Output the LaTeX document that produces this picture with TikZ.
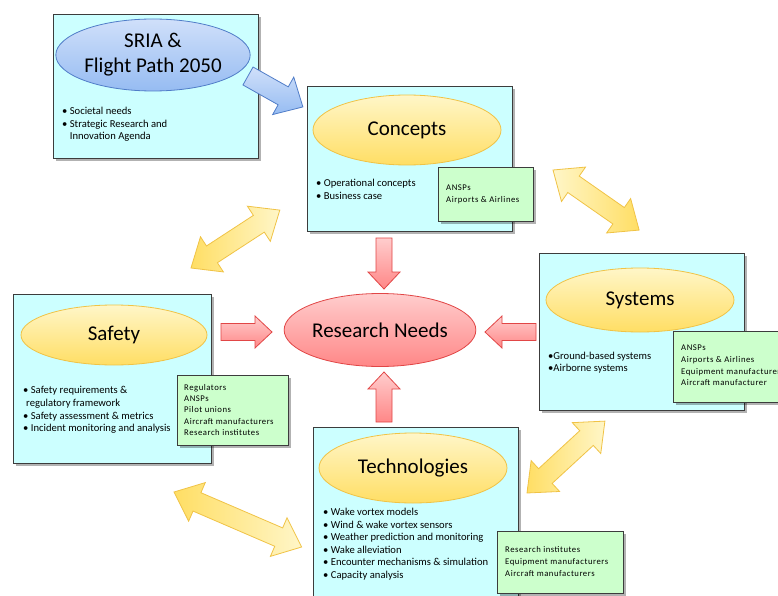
\documentclass[tikz,border=0pt]{standalone}
\usepackage{fontspec}
\setmainfont{Carlito}
\newfontfamily\grnfont[LetterSpace=6]{Carlito}
\usetikzlibrary{shapes.geometric,shadows}

\definecolor{cyanbox}{RGB}{204,255,255}
\definecolor{greenbox}{RGB}{204,255,204}
\definecolor{boxline}{RGB}{60,60,60}
\definecolor{yelTop}{RGB}{255,246,200}
\definecolor{yelBot}{RGB}{255,222,100}
\definecolor{yelLine}{RGB}{240,195,70}
\definecolor{bluTop}{RGB}{208,224,250}
\definecolor{bluBot}{RGB}{150,188,242}
\definecolor{bluLine}{RGB}{80,125,200}
\definecolor{redTop}{RGB}{255,205,205}
\definecolor{redBot}{RGB}{255,135,135}
\definecolor{redLine}{RGB}{225,70,70}

% single block arrow: style, start, angle, length, half shaft, half head, head length
\newcommand\sblock[7]{\begin{scope}[shift={#2},rotate=#3]
 \path[#1] (0,#5) -- ({#4-#7},#5) -- ({#4-#7},#6) -- (#4,0) -- ({#4-#7},-#6) -- ({#4-#7},-#5) -- (0,-#5) -- cycle;
\end{scope}}
% double block arrow: style, start, angle, length, half shaft, half head, head length
\newcommand\dblock[7]{\begin{scope}[shift={#2},rotate=#3]
 \path[#1] (0,0) -- (#7,#6) -- (#7,#5) -- ({#4-#7},#5) -- ({#4-#7},#6) -- (#4,0) -- ({#4-#7},-#6) -- ({#4-#7},-#5) -- (#7,-#5) -- (#7,-#6) -- cycle;
\end{scope}}

\tikzset{
 cbox/.style={draw=boxline, fill=cyanbox, line width=0.9pt, anchor=north west, inner sep=0,
   drop shadow={shadow xshift=2.5pt, shadow yshift=-2.5pt, opacity=0.3, fill=black}},
 gbox/.style={draw=boxline, fill=greenbox, line width=0.9pt, anchor=north west, inner sep=0,
   drop shadow={shadow xshift=2.5pt, shadow yshift=-2.5pt, opacity=0.3, fill=black}},
 ybub/.style={ellipse, draw=yelLine, line width=0.8pt, top color=yelTop, bottom color=yelBot,
   font=\fontsize{21}{25}\selectfont, inner sep=0, align=center},
 bbub/.style={ellipse, draw=bluLine, line width=0.8pt, top color=bluTop, bottom color=bluBot,
   font=\fontsize{21}{25}\selectfont, inner sep=0, align=center},
 rbub/.style={ellipse, draw=redLine, line width=0.8pt, top color=redTop, bottom color=redBot,
   font=\fontsize{21}{25}\selectfont, inner sep=0, align=center},
 lst/.style={anchor=north west, inner sep=0, align=left},
 yarrow/.style={draw=yelLine, line width=0.8pt, left color=yelBot, right color=yelTop},
 yarrowr/.style={draw=yelLine, line width=0.8pt, left color=yelTop, right color=yelBot},
 rarrow/.style={draw=redLine, line width=0.8pt, top color=redTop, bottom color=redBot},
 barrow/.style={draw=bluLine, line width=0.8pt, top color=bluTop, bottom color=bluBot},
}
\newcommand\bul{\textbullet\ }
\newcommand\bulsp{\hphantom{\textbullet\ }}

\begin{document}
\begin{tikzpicture}[x=1pt,y=-1pt]
\useasboundingbox (0,0) rectangle (778,596);
\clip (0,0) rectangle (778,596);
\fill[white] (0,0) rectangle (778,596);

% ---------- boxes ----------
\node[cbox, minimum width=205, minimum height=144] (sriabox) at (53,14) {};
\node[cbox, minimum width=205, minimum height=145] (conbox) at (307,86) {};
\node[cbox, minimum width=205, minimum height=157] (sysbox) at (539,253) {};
\node[cbox, minimum width=198, minimum height=169] (safbox) at (13,294) {};
\node[cbox, minimum width=205, minimum height=180] (tecbox) at (313,427) {};

% ---------- ellipses ----------
\node[bbub, minimum width=188, minimum height=72] (sria) at (153,55) {SRIA \&\\Flight Path 2050};
\node[ybub, minimum width=188, minimum height=70] (concepts) at (407,130) {Concepts};
\node[ybub, minimum width=188, minimum height=64] (systems) at (640,300) {Systems};
\node[ybub, minimum width=186, minimum height=60] (safety) at (114,335) {Safety};
\node[ybub, minimum width=188, minimum height=70] (tech) at (413,468) {Technologies};
\node[rbub, minimum width=188, minimum height=73] (needs) at (380,330) {Research Needs};

% ---------- bullet lists ----------
\node[lst, font=\fontsize{10.6}{12.5}\selectfont] (srialist) at (62,107)
 {\bul Societal needs\\ \bul Strategic Research and\\ \bulsp Innovation Agenda};
\node[lst, font=\fontsize{10.6}{13}\selectfont] (conlist) at (316,179)
 {\bul Operational concepts\\ \bul Business case};
\node[lst, font=\fontsize{10.6}{12}\selectfont] (syslist) at (548,352)
 {\textbullet Ground-based systems\\ \textbullet Airborne systems};
\node[lst, font=\fontsize{10.6}{12.8}\selectfont] (saflist) at (23,386)
 {\bul Safety requirements \&\\ \hspace{3pt}regulatory framework\\ \bul Safety assessment \& metrics\\ \bul Incident monitoring and analysis};
\node[lst, font=\fontsize{10.6}{12.6}\selectfont] (teclist) at (323,508)
 {\bul Wake vortex models\\ \bul Wind \& wake vortex sensors\\ \bul Weather prediction and monitoring\\ \bul Wake alleviation\\ \bul Encounter mechanisms \& simulation\\ \bul Capacity analysis};

% ---------- stakeholder boxes ----------
\node[gbox, minimum width=95, minimum height=54] (congrn) at (438,167) {};
\node[lst, font=\grnfont\fontsize{8.7}{11.5}\selectfont] (congrntxt) at (446,185)
 {ANSPs\\ Airports \& Airlines};
\node[gbox, minimum width=120, minimum height=71] (sysgrn) at (673,331) {};
\node[lst, font=\grnfont\fontsize{8.7}{11.7}\selectfont] (sysgrntxt) at (681,345)
 {ANSPs\\ Airports \& Airlines\\ Equipment manufacturer\\ Aircraft manufacturer};
\node[gbox, minimum width=111, minimum height=70] (safgrn) at (177,375) {};
\node[lst, font=\grnfont\fontsize{8.7}{11.3}\selectfont] (safgrntxt) at (184,384)
 {Regulators\\ ANSPs\\ Pilot unions\\ Aircraft manufacturers\\ Research institutes};
\node[gbox, minimum width=126, minimum height=62] (tecgrn) at (497,531) {};
\node[lst, font=\grnfont\fontsize{8.7}{12}\selectfont] (tecgrntxt) at (505,546)
 {Research institutes\\ Equipment manufacturers\\ Aircraft manufacturers};

% ---------- block arrows ----------
\sblock{barrow}{(248,76)}{-29.4}{63}{10.3}{21.5}{22.6}
\sblock{rarrow}{(384,238)}{-90}{51}{8}{16}{17}
\sblock{rarrow}{(384,422)}{90}{50}{8}{16}{17}
\sblock{rarrow}{(221,332)}{0}{51}{8.5}{16}{17}
\sblock{rarrow}{(536,332)}{180}{51}{8.5}{16}{17}
\dblock{yarrow}{(191,268)}{33.1}{106}{10}{21}{25}
\dblock{yarrowr}{(553,170)}{-34.9}{105}{10}{21}{25}
\dblock{yarrow}{(527,493)}{42.7}{106}{10}{21}{25}
\dblock{yarrow}{(174,492)}{-23.3}{139}{10}{21}{25}
\end{tikzpicture}
\end{document}
